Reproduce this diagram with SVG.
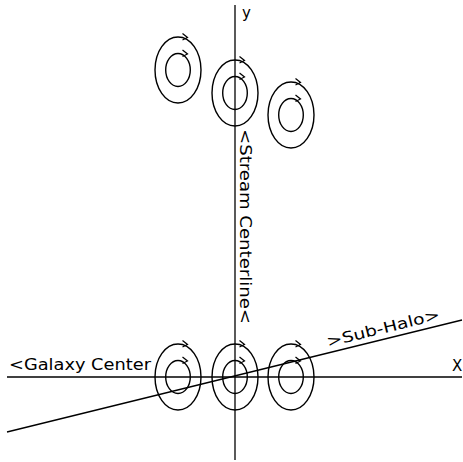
<svg xmlns="http://www.w3.org/2000/svg" width="463" height="462" viewBox="0 0 463 462">
<style>
.ln{stroke:#000;stroke-width:1.3;fill:none}
.c{stroke:#000;stroke-width:1.4;fill:none}
.ah{stroke:#000;stroke-width:1.2;fill:none}
.t{font-family:"DejaVu Sans ExtraLight","DejaVu Sans","Liberation Sans",sans-serif;font-size:15px;fill:#000}
</style>
<defs>
<g id="vortex">
<ellipse class="c" cx="0" cy="0" rx="23" ry="33"/>
<ellipse class="c" cx="0" cy="0" rx="12.3" ry="16.5"/>
<path class="ah" d="M4.5,-36.5 L9.5,-32.5 L4.5,-30"/>
<path class="ah" d="M4.5,-20 L9.5,-16 L4.5,-13.5"/>
</g>
</defs>
<rect width="463" height="462" fill="#fff"/>
<g id="connectors">
<line class="ln" x1="7" y1="377" x2="462" y2="377"/>
<line class="ln" x1="235" y1="5" x2="235" y2="460"/>
<line class="ln" x1="7" y1="432" x2="462" y2="320"/>
</g>
<g id="vortex-top-left"><use href="#vortex" x="178" y="70"/></g>
<g id="vortex-top-mid"><use href="#vortex" x="235" y="93"/></g>
<g id="vortex-top-right"><use href="#vortex" x="291" y="115"/></g>
<g id="vortex-bottom-left"><use href="#vortex" x="178" y="377"/></g>
<g id="vortex-bottom-mid"><use href="#vortex" x="235" y="377"/></g>
<g id="vortex-bottom-right"><use href="#vortex" x="291" y="377"/></g>
<g id="labels">
<text class="t" x="242" y="18">y</text>
<text class="t" x="452" y="371">X</text>
<text class="t" x="9" y="370" textLength="142" lengthAdjust="spacingAndGlyphs">&lt;Galaxy Center</text>
<text class="t" transform="translate(240,129) rotate(90)" x="0" y="0" textLength="195" lengthAdjust="spacingAndGlyphs">&lt;Stream Centerline&lt;</text>
<text class="t" transform="translate(328,347) rotate(-13.8)" x="0" y="0" textLength="116" lengthAdjust="spacingAndGlyphs">&gt;Sub-Halo&gt;</text>
</g>
</svg>
